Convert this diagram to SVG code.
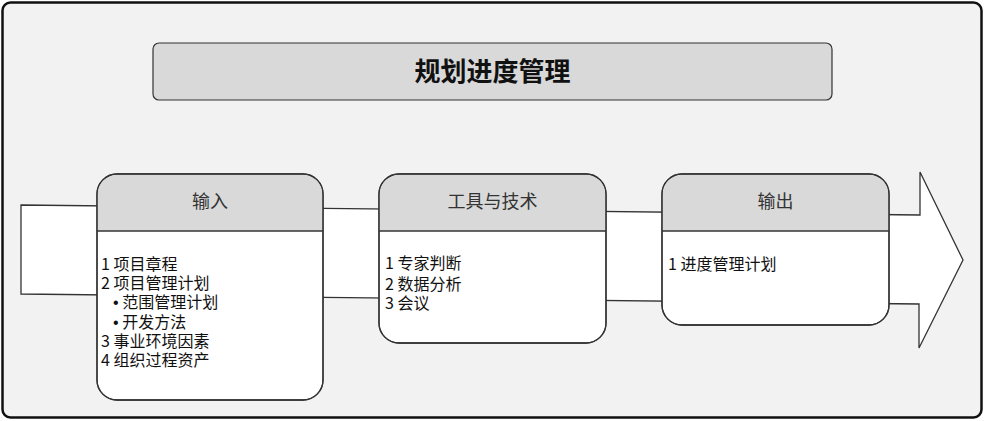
<svg xmlns="http://www.w3.org/2000/svg" width="985" height="421" viewBox="0 0 985 421">
<style>
.cjk{font-family:"Microsoft YaHei","Noto Sans CJK SC","Noto Sans",sans-serif}
.hd{font-size:18px;fill:#333;text-anchor:middle}
.bd{font-size:16px;fill:#111}
.bl{font-family:"Liberation Sans",sans-serif}
.box{fill:#fff;stroke:#333;stroke-width:1.3}
.head{fill:#d9d9d9}
.div{stroke:#333;stroke-width:1.3}
</style>
<rect x="2.5" y="2.5" width="979" height="415" rx="8" fill="#f2f2f2" stroke="#111" stroke-width="2.5"/>
<g id="title">
<rect x="153" y="43" width="679" height="57" rx="6" fill="#d9d9d9" stroke="#333" stroke-width="1.2"/>
<text class="cjk" x="492.5" y="81" font-size="26" font-weight="bold" fill="#111" text-anchor="middle">规划进度管理</text>
</g>
<g id="connectors">
<polygon points="21,205 920,215 920,172 963,260 919,348 919,304 21,294" fill="#fff" stroke="#333" stroke-width="1.3"/>
</g>
<g id="input">
<rect class="box" x="97" y="174" width="226" height="226" rx="20"/>
<path class="head" d="M97.7,231 V194 A19.3,19.3 0 0 1 117,174.7 H303 A19.3,19.3 0 0 1 322.3,194 V231 Z"/>
<rect x="97" y="174" width="226" height="226" rx="20" fill="none" stroke="#333" stroke-width="1.3"/>
<line class="div" x1="97" y1="231" x2="323" y2="231"/>
<text class="cjk hd" x="210" y="208">输入</text>
<text class="cjk bd" x="101" y="270"><tspan x="101" y="270">1 项目章程</tspan><tspan x="101" y="289">2 项目管理计划</tspan><tspan x="113" y="308"><tspan class="bl">•</tspan> 范围管理计划</tspan><tspan x="113" y="328"><tspan class="bl">•</tspan> 开发方法</tspan><tspan x="101" y="347">3 事业环境因素</tspan><tspan x="101" y="366">4 组织过程资产</tspan></text>
</g>
<g id="tools">
<rect class="box" x="379" y="174" width="227" height="169" rx="20"/>
<path class="head" d="M379.7,231 V194 A19.3,19.3 0 0 1 399,174.7 H586 A19.3,19.3 0 0 1 605.3,194 V231 Z"/>
<rect x="379" y="174" width="227" height="169" rx="20" fill="none" stroke="#333" stroke-width="1.3"/>
<line class="div" x1="379" y1="231" x2="606" y2="231"/>
<text class="cjk hd" x="492.5" y="208">工具与技术</text>
<text class="cjk bd" x="385" y="269"><tspan x="385" y="269">1 专家判断</tspan><tspan x="385" y="290">2 数据分析</tspan><tspan x="385" y="309">3 会议</tspan></text>
</g>
<g id="output">
<rect class="box" x="662" y="174" width="227" height="151" rx="20"/>
<path class="head" d="M662.7,231 V194 A19.3,19.3 0 0 1 682,174.7 H869 A19.3,19.3 0 0 1 888.3,194 V231 Z"/>
<rect x="662" y="174" width="227" height="151" rx="20" fill="none" stroke="#333" stroke-width="1.3"/>
<line class="div" x1="662" y1="231" x2="889" y2="231"/>
<text class="cjk hd" x="775.5" y="208">输出</text>
<text class="cjk bd" x="668" y="270">1 进度管理计划</text>
</g>
</svg>
